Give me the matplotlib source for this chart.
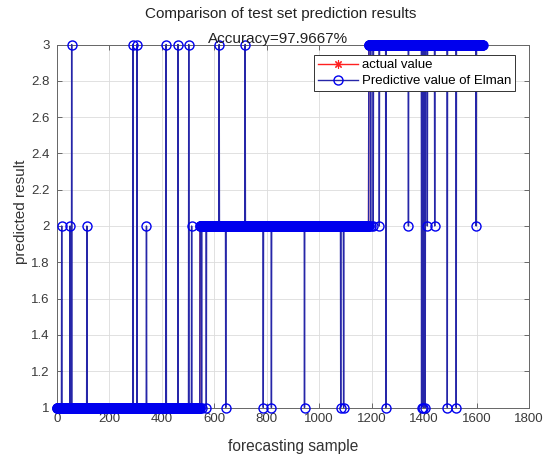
import numpy as np
import matplotlib
matplotlib.use("Agg")
import matplotlib.pyplot as plt

# ---- data ----
class_values = [1, 2, 3]
class_counts = [545, 643, 435]          # consecutive samples of each actual class

# misclassified samples (sample index -> predicted class)
err_to2_in_c1 = [19, 51, 115, 342, 514]
err_to3_in_c1 = [57, 291, 306, 417, 462, 503]
err_to1_in_c2 = [552, 570, 644, 787, 818, 944, 1082, 1093]
err_to3_in_c2 = [619, 718]
err_to2_in_c3 = [1196, 1206, 1229, 1340, 1412, 1440, 1598]
err_to1_in_c3 = [1254, 1390, 1397, 1404, 1488, 1522]

title_line1 = "Comparison of test set prediction results"
title_line2 = "Accuracy=97.9667%"
x_ticks = [0, 200, 400, 600, 800, 1000, 1200, 1400, 1600, 1800]
y_ticks = [1, 1.2, 1.4, 1.6, 1.8, 2, 2.2, 2.4, 2.6, 2.8, 3]
y_ticklabels = ["1", "1.2", "1.4", "1.6", "1.8", "2", "2.2", "2.4", "2.6", "2.8", "3"]

# ---- build series ----
actual = np.repeat(class_values, class_counts).astype(float)
n = len(actual)
samples = np.arange(1, n + 1)
predicted = actual.copy()
for idx_list, val in [(err_to2_in_c1, 2), (err_to3_in_c1, 3), (err_to1_in_c2, 1),
                      (err_to3_in_c2, 3), (err_to2_in_c3, 2), (err_to1_in_c3, 1)]:
    for i in idx_list:
        predicted[i - 1] = val

plt.rcParams['font.family'] = ['Liberation Sans', 'DejaVu Sans']

fig = plt.figure(figsize=(5.46, 4.58), dpi=100)
ax = fig.add_axes([56.7 / 546, 1 - 407.5 / 458, (529.2 - 56.7) / 546, (407.5 - 44.5) / 458])

ax.plot(samples, actual, color='#ff2020', lw=1.0, marker=(8, 2, 0), ms=6,
        mew=0.8, label='actual value', clip_on=False, zorder=3)
ax.plot(samples, predicted, color='#2626a8', lw=1.0, marker='o', ms=6.5,
        mfc='none', mec='#0000ee', mew=1.0, label='Predictive value of Elman',
        clip_on=False, zorder=4)

ax.set_xlim(0, 1800)
ax.set_ylim(1, 3)
ax.set_xticks(x_ticks)
ax.set_yticks(y_ticks)
ax.set_yticklabels(y_ticklabels)
ax.tick_params(direction='in', length=3.5, width=0.6, top=True, right=True,
               labelsize=9.5, colors='#555555', labelcolor='#3a3a3a')
ax.tick_params(axis='x', pad=4)
ax.tick_params(axis='y', pad=5)
ax.grid(True, color='#dcdcdc', lw=0.6)
ax.set_axisbelow(True)
for s in ax.spines.values():
    s.set_color('#666666')
    s.set_linewidth(0.7)

ax.set_xlabel('forecasting sample', fontsize=11.2, color='#333333', labelpad=10)
fig.text(21 / 546, 1 - 212 / 458, 'predicted result', rotation=90, fontsize=11,
         color='#333333', ha='center', va='center')
fig.text(281 / 546, 1 - 14 / 458, title_line1, fontsize=11, color='#222222',
         ha='center', va='center')
fig.text(278 / 546, 1 - 38.5 / 458, title_line2, fontsize=11, color='#222222',
         ha='center', va='center', zorder=10)

leg = ax.legend(loc='upper left', bbox_to_anchor=(314 / 546, 1 - 55 / 458),
                bbox_transform=fig.transFigure, fontsize=9.5, frameon=True,
                fancybox=False, framealpha=1, edgecolor='#333333',
                handlelength=3.0, handletextpad=0.3, borderpad=0.3,
                labelspacing=0.3, borderaxespad=0)
leg.get_frame().set_linewidth(0.7)
leg.set_zorder(20)

fig.savefig('out.png', dpi=100)
